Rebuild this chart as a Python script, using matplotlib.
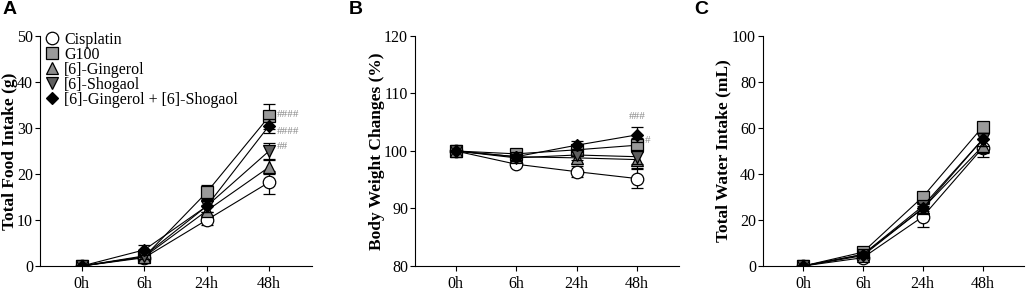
import numpy as np
import matplotlib
matplotlib.use("Agg")
import matplotlib.pyplot as plt
from matplotlib.lines import Line2D

# ---- data ----
times = ["0h", "6h", "24h", "48h"]
groups = ["Cisplatin", "G100", "[6]-Gingerol", "[6]-Shogaol",
          "[6]-Gingerol + [6]-Shogaol"]

food_cis = [0, 1.8, 10.0, 18.2]
food_g100 = [0, 2.0, 16.0, 32.5]
food_gin = [0, 2.0, 12.0, 21.5]
food_sho = [0, 2.2, 13.0, 25.0]
food_mix = [0, 3.5, 13.0, 30.5]
food_err = [[0, 0.8, 1.0, 2.5], [0, 0.6, 1.5, 2.8], [0, 0.6, 1.2, 1.5],
            [0, 0.6, 1.2, 1.8], [0, 1.0, 1.2, 1.5]]

bw_cis = [100, 97.7, 96.4, 95.2]
bw_g100 = [100, 99.5, 100.2, 101.0]
bw_gin = [100, 99.0, 98.8, 98.5]
bw_sho = [100, 98.8, 99.3, 99.0]
bw_mix = [100, 99.0, 101.0, 102.8]
bw_err = [[0, 0.4, 1.0, 1.6], [0, 0.5, 0.8, 1.2], [0, 0.5, 1.0, 1.5],
          [0, 0.5, 0.8, 1.2], [0, 0.5, 0.8, 1.3]]

wat_cis = [0, 3.6, 21.4, 51.3]
wat_g100 = [0, 6.0, 30.0, 60.4]
wat_gin = [0, 4.5, 25.0, 52.0]
wat_sho = [0, 5.0, 26.0, 55.0]
wat_mix = [0, 5.0, 25.0, 55.0]
wat_err = [[0, 1.0, 4.5, 4.0], [0, 1.0, 2.0, 2.0], [0, 1.0, 2.0, 3.0],
           [0, 1.0, 2.0, 3.0], [0, 1.0, 2.0, 3.0]]

styles = [dict(marker="o", mfc="white", ms=9),
          dict(marker="s", mfc="#9a9a9a", ms=8),
          dict(marker="^", mfc="#8c8c8c", ms=8),
          dict(marker="v", mfc="#5e5e5e", ms=8),
          dict(marker="D", mfc="black", ms=6)]

plt.rcParams["font.family"] = "Liberation Serif"

fig = plt.figure(figsize=(10.31, 2.92), dpi=100)
axA = fig.add_axes([0.0388, 0.089, 0.264, 0.788])
axB = fig.add_axes([0.4025, 0.089, 0.256, 0.788])
axC = fig.add_axes([0.740, 0.089, 0.253, 0.788])
x = np.arange(len(times))


def panel(ax, series, errs, ylim, yticks, ylabel, labx):
    for i in [0, 2, 3, 4, 1]:
        ax.errorbar(x, series[i], yerr=errs[i], color="black", lw=0.8,
                    capsize=4, elinewidth=0.9, capthick=0.9,
                    mec="black", mew=0.9, zorder=3 + i, **styles[i])
    ax.set_xlim(-0.67, 3.69)
    ax.set_ylim(*ylim)
    ax.set_yticks(yticks)
    ax.set_xticks(x)
    ax.set_xticklabels(times)
    ax.spines["top"].set_visible(False)
    ax.spines["right"].set_visible(False)
    ax.tick_params(labelsize=11.5, length=3.5, width=0.8)
    ax.tick_params(axis="y", pad=1.5)
    ax.set_ylabel(ylabel, fontsize=12.5, fontweight="bold")
    ax.yaxis.set_label_coords(labx, 0.5)


panel(axA, [food_cis, food_g100, food_gin, food_sho, food_mix], food_err,
      (0, 50), [0, 10, 20, 30, 40, 50], "Total Food Intake (g)", -0.082)
panel(axB, [bw_cis, bw_g100, bw_gin, bw_sho, bw_mix], bw_err,
      (80, 120), [80, 90, 100, 110, 120], "Body Weight Changes (%)", -0.115)
panel(axC, [wat_cis, wat_g100, wat_gin, wat_sho, wat_mix], wat_err,
      (0, 100), [0, 20, 40, 60, 80, 100], "Total Water Intake (mL)", -0.12)

handles = [Line2D([], [], ls="none", mec="black", mew=0.9, **s) for s in styles]
axA.legend(handles, groups, loc="upper left", bbox_to_anchor=(0.0, 1.04),
           frameon=False, fontsize=11.5, handlelength=0.9, handletextpad=0.3,
           labelspacing=-0.06, borderpad=0.1, borderaxespad=0.2)

gray = "#8a8a8a"
axA.text(3.12, food_g100[3] + 0.5, "####", color=gray, fontsize=8, va="center")
axA.text(3.12, food_mix[3] - 1.2, "####", color=gray, fontsize=8, va="center")
axA.text(3.12, food_sho[3] + 1.0, "##", color=gray, fontsize=8, va="center")
axB.text(3.0, 106.0, "###", color=gray, fontsize=8, ha="center", va="center")
axB.text(3.12, 101.8, "#", color=gray, fontsize=8, va="center")

for xpix, lab in zip([3, 349, 694], ["A", "B", "C"]):
    fig.text(xpix / 1031, 0.995, lab, fontsize=14, fontweight="bold",
             family="Liberation Sans", va="top")

fig.savefig("out.png", dpi=100)
